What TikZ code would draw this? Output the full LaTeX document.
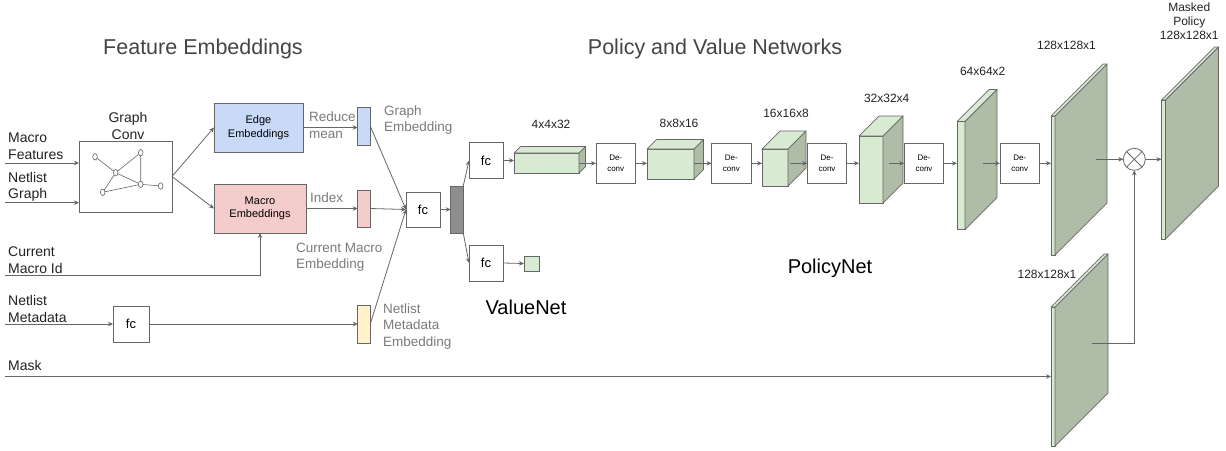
\documentclass[tikz,border=0pt]{standalone}
\usepackage{fontspec}
\setmainfont{Liberation Sans}
\usetikzlibrary{arrows.meta,calc,shapes.geometric}

\definecolor{linegray}{HTML}{666666}
\definecolor{labelgray}{HTML}{7A7A7A}
\definecolor{titlegray}{HTML}{444444}
\definecolor{inktext}{HTML}{222222}
\definecolor{edgeblue}{HTML}{C9DAF8}
\definecolor{macropink}{HTML}{F4CCCC}
\definecolor{metayellow}{HTML}{FFF2CC}
\definecolor{layergreen}{HTML}{D9EAD3}
\definecolor{layerside}{HTML}{AEBCA8}
\definecolor{concatgray}{HTML}{8E8E8E}

\tikzset{
  box/.style={draw=linegray, line width=0.8pt, fill=white, inner sep=0pt, outer sep=0pt, text=black},
  bar/.style={draw=linegray, line width=0.8pt, inner sep=0pt, outer sep=0pt, minimum width=12.5pt},
  arr/.style={draw=linegray, line width=0.8pt, -{Stealth[length=5pt,width=4.5pt]}},
  wire/.style={draw=linegray, line width=0.8pt},
  face/.style={draw=linegray, line width=0.7pt, line join=round, inner sep=0pt, outer sep=0pt},
  gnode/.style={draw=linegray, ellipse, fill=white, line width=0.6pt, minimum width=4.5pt, minimum height=6.5pt, inner sep=0pt, outer sep=0pt},
  inlbl/.style={text=inktext, font=\fontsize{14}{16.5}\selectfont, align=left, anchor=west, inner sep=0pt},
  grylbl/.style={text=labelgray, font=\fontsize{13.5}{16.5}\selectfont, align=left, anchor=west, inner sep=0pt},
  dimlbl/.style={text=inktext, font=\fontsize{12}{14}\selectfont, align=center, inner sep=0pt},
  ttl/.style={text=titlegray, font=\fontsize{21.5}{24}\selectfont, inner sep=0pt},
  netlbl/.style={text=black, font=\fontsize{20}{24}\selectfont, inner sep=0pt},
  fcbox/.style={box, font=\fontsize{13}{15}\selectfont},
  deconv/.style={box, minimum width=39.5pt, minimum height=40pt, align=center, font=\fontsize{8}{10.5}\selectfont},
}

% layer volume: front face as a named node, then top and side faces
% #1 name, #2 x, #3 y, #4 width, #5 height, #6 depth
\newcommand\layercube[6]{%
  \node[face, fill=layergreen, minimum width=#4pt, minimum height=#5pt] (#1) at (#2,#3) {};
  \path[face, fill=layergreen] (#1.north west) -- ++(#6,-#6) -- ++(#4,0) -- (#1.north east) -- cycle;
  \path[face, fill=layerside] (#1.north east) -- ++(#6,-#6) -- ++(0,#5) -- (#1.south east) -- cycle;
}

\begin{document}
\begin{tikzpicture}[x=1pt, y=-1pt]
\useasboundingbox (0,0) rectangle (1226,450);

% ---------- titles ----------
\node[ttl] (t1) at (203,49) {Feature Embeddings};
\node[ttl] (t2) at (715,49) {Policy and Value Networks};

% ---------- inputs ----------
\node[inlbl] (lmf) at (8,146) {Macro\\Features};
\node[inlbl] (lng) at (8,187) {Netlist\\Graph};
\node[inlbl] (lcm) at (8,260) {Current\\Macro Id};
\node[inlbl] (lnm) at (8,309) {Netlist\\Metadata};
\node[inlbl] (lmk) at (8,365) {Mask};

\coordinate (inmf) at (5,163);
\coordinate (inng) at (5,202.7);
\coordinate (incm) at (5,275.7);
\coordinate (innm) at (5,324);
\coordinate (inmk) at (5,376.5);

% ---------- graph conv ----------
\node[box, minimum width=93pt, minimum height=71pt] (gc) at (125.5,176.5) {};
\node[dimlbl, font=\fontsize{14}{17.5}\selectfont] (gcl) at (128,126) {Graph\\Conv};
\node[gnode] (g1) at (95,156.7) {};
\node[gnode] (g2) at (140.7,152.7) {};
\node[gnode] (g3) at (115.7,172.7) {};
\node[gnode] (g4) at (140.7,184.3) {};
\node[gnode] (g5) at (160.7,186) {};
\node[gnode] (g6) at (102.7,192.3) {};
\draw[wire, line width=0.6pt] (g1) -- (g3) (g2) -- (g3) (g2) -- (g4) (g3) -- (g4) (g4) -- (g5) (g3) -- (g6) (g6) -- (g4);

\draw[arr] (inmf) -- (inmf -| gc.west);
\draw[arr] (inng) -- (inng -| gc.west);

% ---------- embeddings ----------
\node[box, fill=edgeblue, minimum width=89pt, minimum height=49pt, align=center, font=\fontsize{11}{13.5}\selectfont] (eb) at (258.5,127.5) {Edge\\Embeddings};
\node[box, fill=macropink, minimum width=92pt, minimum height=49pt, align=center, font=\fontsize{11}{13.5}\selectfont] (mb) at (260,208.5) {Macro\\Embeddings};
\draw[arr] (gc.east) -- (eb.west);
\draw[arr] (gc.east) -- (mb.west);
\draw[arr] (incm) -| (mb.south);

\node[bar, fill=edgeblue, minimum height=38pt] (ge) at (364,126) {};
\node[bar, fill=macropink, minimum height=37pt] (me) at (364,208.5) {};
\node[bar, fill=metayellow, minimum height=38pt] (nb) at (364,324) {};

\draw[arr] (eb.east) -- (eb.east -| ge.west);
\draw[arr] (mb.east) -- (me.west);
\node[grylbl] (lrm) at (309,125) {Reduce\\mean};
\node[grylbl] (lix) at (310,198) {Index};
\node[grylbl] (lge) at (384,120) {Graph\\Embedding};
\node[grylbl] (lce) at (296,257) {Current Macro\\Embedding};
\node[grylbl] (lne) at (383,326.3) {Netlist\\Metadata\\Embedding};

\node[fcbox, minimum width=36pt, minimum height=36pt] (fcm) at (131,324) {fc};
\draw[arr] (innm) -- (fcm.west);
\draw[arr] (fcm.east) -- (nb.west);

% ---------- merge ----------
\node[fcbox, minimum width=34pt, minimum height=35pt] (fc) at (423,209.5) {fc};
\draw[arr] (ge.east) -- (fc.west);
\draw[arr] (me.east) -- (fc.west);
\draw[arr] (nb.east) -- (fc.west);

\node[bar, fill=concatgray, draw=black!60, minimum height=47pt] (db) at (457,209.5) {};
\draw[arr] (fc.east) -- (db.west);

\node[fcbox, minimum width=34pt, minimum height=35.5pt] (fcu) at (486,160.5) {fc};
\node[fcbox, minimum width=34pt, minimum height=36pt] (fcl) at (486,263) {fc};
\draw[arr] (db.north east) -- (fcu.west);
\draw[arr] (db.south east) -- (fcl.west);

% ---------- value head ----------
\node[box, fill=layergreen, minimum width=15pt, minimum height=15pt] (val) at (531.5,263.5) {};
\draw[arr] (fcl.east) -- (val.west);
\node[netlbl] (lvn) at (526,307) {ValueNet};

% ---------- policy head ----------
\layercube{c1}{546.5}{163}{65}{20}{6.5}
\layercube{c2}{670.5}{164}{47}{30}{9.5}
\layercube{c3}{775}{167.5}{26}{37}{18}
\layercube{c4}{871}{169.5}{24}{67}{20}
\layercube{c5}{961}{175.5}{8}{108}{32}
\layercube{c6}{1053}{185.5}{4}{139}{52}
\layercube{c7}{1163.5}{169.5}{4}{139}{53}
\layercube{c8}{1053}{376.5}{4}{139}{53}

\node[deconv] (d1) at (615.7,163.3) {De-\\conv};
\node[deconv] (d2) at (731.3,163.3) {De-\\conv};
\node[deconv] (d3) at (827,163.3) {De-\\conv};
\node[deconv] (d4) at (924,163.3) {De-\\conv};
\node[deconv] (d5) at (1019.7,163.3) {De-\\conv};

\draw[arr] (fcu.east) -- (fcu.east -| c1.west);
\draw[arr] ([xshift=0pt]c1.east |- d1.west) -- (d1.west);
\draw[arr] (d1.east) -- (d1.east -| c2.west);
\draw[arr] ([xshift=0pt]c2.east |- d2.west) -- (d2.west);
\draw[arr] (d2.east) -- (d2.east -| c3.west);
\draw[arr] ([xshift=2pt]c3.east |- d3.west) -- (d3.west);
\draw[arr] (d3.east) -- (d3.east -| c4.west);
\draw[arr] ([xshift=6pt]c4.east |- d4.west) -- (d4.west);
\draw[arr] (d4.east) -- (d4.east -| c5.west);
\draw[arr] ([xshift=18pt]c5.east |- d5.west) -- (d5.west);
\draw[arr] (d5.east) -- (d5.east -| c6.west);

\node[dimlbl] (l1) at (551,124) {4x4x32};
\node[dimlbl] (l2) at (679,123.3) {8x8x16};
\node[dimlbl] (l3) at (786,113.3) {16x16x8};
\node[dimlbl] (l4) at (886.7,98.3) {32x32x4};
\node[dimlbl] (l5) at (982.7,71.7) {64x64x2};
\node[dimlbl] (l6) at (1066.5,45) {128x128x1};
\node[dimlbl] (l8) at (1047,274) {128x128x1};
\node[dimlbl] (l7) at (1189.3,21) {Masked\\Policy\\128x128x1};
\node[netlbl] (lpn) at (830,268) {PolicyNet};

% ---------- mask product ----------
\node[draw=linegray, circle, fill=white, line width=0.8pt, minimum size=22pt, inner sep=0pt, outer sep=0pt] (ot) at (1134.3,159.3) {};
\draw[wire] (ot.45) -- (ot.225) (ot.135) -- (ot.315);
\draw[arr] ([xshift=41pt]c6.east |- ot.west) -- (ot.west);
\draw[arr] (ot.east) -- (ot.east -| c7.west);

\draw[arr] (inmk) -- (c8.west);
\coordinate (mkout) at (1092,343.7);
\draw[arr] (mkout) -| (ot.south);

\end{tikzpicture}
\end{document}
